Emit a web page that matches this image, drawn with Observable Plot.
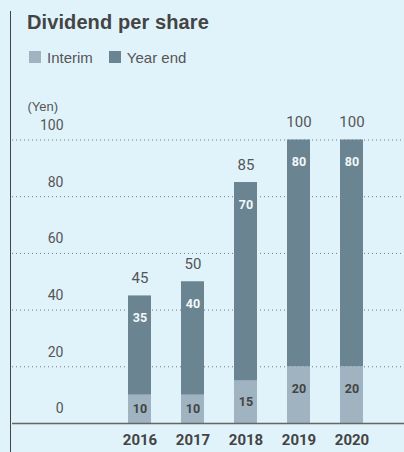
<!DOCTYPE html>
<html>
<head>
<meta charset="utf-8">
<script src="https://cdn.jsdelivr.net/npm/d3@7"></script>
<script src="https://cdn.jsdelivr.net/npm/@observablehq/plot@0.6"></script>
<style>
  html, body { margin: 0; padding: 0; }
  body { width: 404px; height: 452px; background: #e0f3fb; position: relative; overflow: hidden; font-family: "Liberation Sans", Arial, sans-serif; }
  #frame { position: absolute; left: 10px; top: 11px; width: 0; height: 441px; border-left: 1.5px solid #444; }
  #title { position: absolute; left: 27px; top: 12px; font-size: 20px; line-height: 20px; font-weight: bold; color: #444; letter-spacing: 0.1px; }
  #legend { position: absolute; left: 29px; top: 49px; height: 16px; display: flex; align-items: center; font-size: 15px; color: #555; }
  #legend .sw { width: 12px; height: 12px; display: inline-block; margin-right: 6px; }
  #legend .item { display: flex; align-items: center; margin-right: 16px; }
  #chart { position: absolute; left: 0; top: 80px; }
</style>
</head>
<body>
<div id="frame"></div>
<div id="title">Dividend per share</div>
<div id="legend"></div>
<div id="chart"></div>
<script>
const years = ["2016", "2017", "2018", "2019", "2020"];
const interim = [10, 10, 15, 20, 20];
const yearEnd = [35, 40, 70, 80, 80];
const totals = [45, 50, 85, 100, 100];
const seriesNames = ["Interim", "Year end"];
const seriesColors = ["#9fb3c0", "#6a8591"];
const yTicks = [0, 20, 40, 60, 80, 100];
const unitLabel = "(Yen)";

// legend
const legend = document.getElementById("legend");
seriesNames.forEach((n, i) => {
  const item = document.createElement("span");
  item.className = "item";
  const sw = document.createElement("span");
  sw.className = "sw";
  sw.style.background = seriesColors[i];
  item.appendChild(sw);
  item.appendChild(document.createTextNode(n));
  legend.appendChild(item);
});

const rows = [];
years.forEach((y, i) => rows.push({year: y, type: "Interim", value: interim[i]}));
years.forEach((y, i) => rows.push({year: y, type: "Year end", value: yearEnd[i]}));

const totalRows = years.map((y, i) => ({year: y, total: totals[i], interim: interim[i], yearEnd: yearEnd[i]}));

const numFont = "Roboto, 'Liberation Sans', sans-serif";

const plot = Plot.plot({
  width: 404,
  height: 372,
  marginLeft: 12,
  marginRight: 0,
  marginTop: 0,
  marginBottom: 29,
  style: {background: "transparent", overflow: "visible"},
  x: {domain: years, range: [98, 393], padding: 0.566, axis: null},
  y: {domain: [0, 100], range: [343, 59.5], axis: null},
  color: {domain: seriesNames, range: seriesColors},
  marks: [
    Plot.ruleY(yTicks.filter(d => d > 0), {stroke: "#777", strokeWidth: 1, strokeDasharray: "1,3"}),
    Plot.barY(rows, {x: "year", y: "value", fill: "type"}),
    Plot.ruleY([0], {stroke: "#666", strokeWidth: 1.5}),
    Plot.text(yTicks, {y: d => d, text: d => String(d), frameAnchor: "left", dx: 51, dy: -14.5, textAnchor: "end", fontSize: 14, fill: "#555", fontFamily: numFont}),
    Plot.text([unitLabel], {text: d => d, frameAnchor: "top-left", dx: 15, dy: 21, textAnchor: "start", fontSize: 13, fill: "#555", fontFamily: "'Liberation Sans', Arial, sans-serif"}),
    Plot.text(totalRows, {x: "year", y: "total", text: d => String(d.total), dy: -17.5, fontSize: 15, fill: "#555", fontFamily: numFont}),
    Plot.text(totalRows, {x: "year", y: "total", text: d => String(d.yearEnd), dy: 22, fontSize: 12.5, fontWeight: "bold", fill: "#f4f8fa", fontFamily: numFont}),
    Plot.text(totalRows, {x: "year", y: d => Math.max(d.interim / 2, d.interim - 7.8), text: d => String(d.interim), fontSize: 12.5, fontWeight: "bold", fill: "#444", fontFamily: numFont}),
    Plot.text(years, {x: d => d, text: d => d, frameAnchor: "bottom", dy: 21, fontSize: 15, fontWeight: "bold", fill: "#444", fontFamily: numFont, letterSpacing: "0.3px"})
  ]
});
document.getElementById("chart").appendChild(plot);
</script>
</body>
</html>
